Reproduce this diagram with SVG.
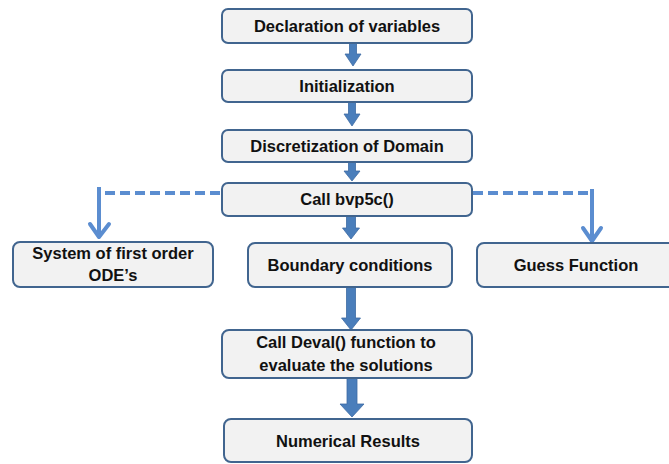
<svg xmlns="http://www.w3.org/2000/svg" width="669" height="464" viewBox="0 0 669 464">
<style>
.box{fill:#f2f2f2;stroke:#41658f;stroke-width:2}
.t{font-family:"Liberation Sans",Arial,sans-serif;font-weight:bold;font-size:16.5px;fill:#111;text-anchor:middle}
.blk{fill:#4a7ebb;stroke:#3d6ba3;stroke-width:0.8}
.dash{fill:none;stroke:#5b8dd0;stroke-width:4;stroke-dasharray:10 5}
.chev{fill:none;stroke:#5b8dd0;stroke-width:4;stroke-linecap:round;stroke-linejoin:round}
.stem{fill:none;stroke:#5b8dd0;stroke-width:4}
</style>
<rect width="669" height="464" fill="#ffffff"/>
<g id="connectors">
<polygon class="blk" points="349.5,43 356.5,43 356.5,54 361,54 353,66 345,54 349.5,54"/>
<polygon class="blk" points="348.5,102 355.5,102 355.5,114 360,114 352,126 344,114 348.5,114"/>
<polygon class="blk" points="348.5,162 355.5,162 355.5,171 360,171 352,181 344,171 348.5,171"/>
<polygon class="blk" points="346.5,216 355.5,216 355.5,228 359.5,228 351,239 342.5,228 346.5,228"/>
<polygon class="blk" points="346.5,287 355.5,287 355.5,318 360.5,318 351,330 341.5,318 346.5,318"/>
<polygon class="blk" points="347,378 357,378 357,404 364,404 352,417 340,404 347,404"/>
<path class="dash" d="M220,193 H99"/>
<path class="stem" d="M99,187 V236"/>
<path class="chev" d="M90,224 L99,237 L109,224"/>
<path class="dash" d="M473,193 H592"/>
<path class="stem" d="M592,189 V240"/>
<path class="chev" d="M583,228 L592,241 L601,228"/>
</g>
<g id="n1"><rect class="box" x="222" y="9" width="250" height="34" rx="6"/><text class="t" x="347" y="32">Declaration of variables</text></g>
<g id="n2"><rect class="box" x="222" y="70" width="250" height="32" rx="6"/><text class="t" x="347" y="92">Initialization</text></g>
<g id="n3"><rect class="box" x="222" y="130" width="250" height="32" rx="6"/><text class="t" x="347" y="152">Discretization of Domain</text></g>
<g id="n4"><rect class="box" x="222" y="183" width="250" height="33" rx="6"/><text class="t" x="347" y="205">Call bvp5c()</text></g>
<g id="n5"><rect class="box" x="13" y="242" width="200" height="45" rx="7"/><text class="t" x="113" y="259">System of first order</text><text class="t" x="113" y="281">ODE’s</text></g>
<g id="n6"><rect class="box" x="248" y="243" width="204" height="44" rx="7"/><text class="t" x="350" y="271">Boundary conditions</text></g>
<g id="n7"><rect class="box" x="477" y="243" width="200" height="44" rx="7"/><text class="t" x="576" y="271">Guess Function</text></g>
<g id="n8"><rect class="box" x="222" y="330" width="250" height="48" rx="7"/><text class="t" x="346" y="348">Call Deval() function to</text><text class="t" x="346" y="371">evaluate the solutions</text></g>
<g id="n9"><rect class="box" x="224" y="419" width="248" height="43" rx="7"/><text class="t" x="348" y="447">Numerical Results</text></g>
</svg>
